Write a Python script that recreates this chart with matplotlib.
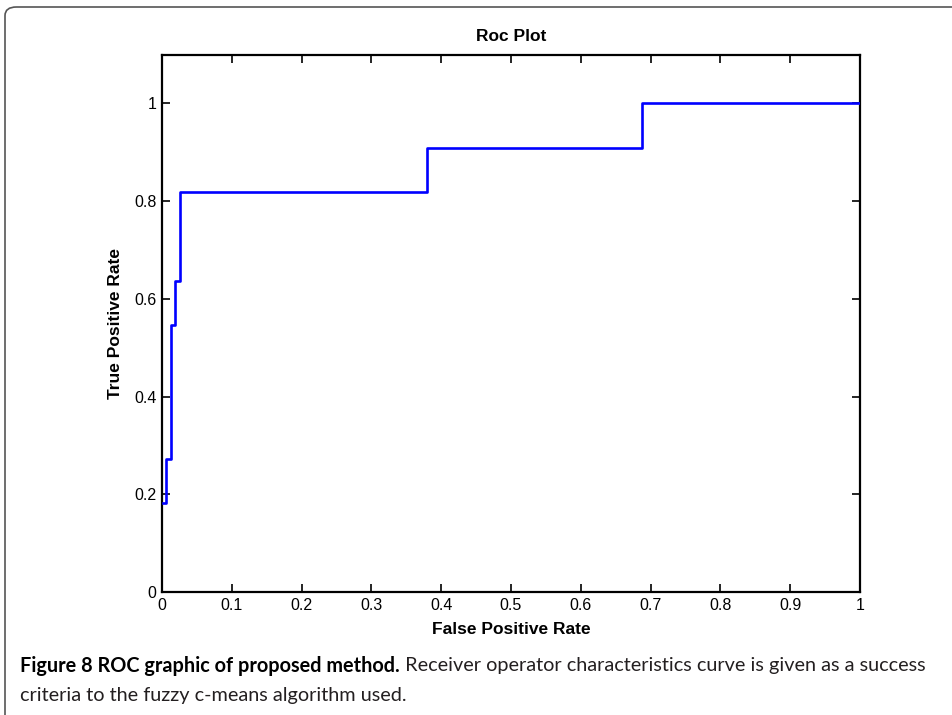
import matplotlib
matplotlib.use("Agg")
import matplotlib.pyplot as plt
from matplotlib.patches import FancyBboxPatch

# ---- data ----
fpr = [0.002, 0.0055, 0.0125, 0.019, 0.026, 0.380, 0.688, 1.0]
tpr = [2/11, 3/11, 6/11, 7/11, 9/11, 10/11, 1.0, 1.0]
xticks = [0, 0.1, 0.2, 0.3, 0.4, 0.5, 0.6, 0.7, 0.8, 0.9, 1]
xticklabels = ["0", "0.1", "0.2", "0.3", "0.4", "0.5", "0.6", "0.7", "0.8", "0.9", "1"]
yticks = [0, 0.2, 0.4, 0.6, 0.8, 1]
yticklabels = ["0", "0.2", "0.4", "0.6", "0.8", "1"]
title = "Roc Plot"
xlabel = "False Positive Rate"
ylabel = "True Positive Rate"
cap_bold = "Figure 8 ROC graphic of proposed method."
cap_line1 = " Receiver operator characteristics curve is given as a success"
cap_line2 = "criteria to the fuzzy c-means algorithm used."

W, H = 953, 715
fig = plt.figure(figsize=(W/100, H/100), dpi=100)
plt.rcParams['font.family'] = ['Liberation Sans', 'DejaVu Sans']

# outer rounded frame (cropped at right and bottom)
frame = FancyBboxPatch((5/W, -0.2), 1.2, 1 - 7/H + 0.2,
                       boxstyle="round,pad=0,rounding_size=0.012",
                       transform=fig.transFigure, fill=False,
                       edgecolor="#555555", linewidth=1.2)
fig.patches.append(frame)

ax = fig.add_axes([162/W, 1 - 592/H, (860-162)/W, (592-54.5)/H])
ax.step(fpr, tpr, where='post', color=(0, 0, 1), linewidth=1.9, zorder=3)
ax.set_xlim(0, 1)
ax.set_ylim(0, 1.1)
ax.set_xticks(xticks)
ax.set_xticklabels(xticklabels)
ax.set_yticks(yticks)
ax.set_yticklabels(yticklabels)
ax.tick_params(direction='in', length=5.5, width=1.2, top=True, right=True,
               labelsize=11.5, pad=4, colors='black')
for s in ax.spines.values():
    s.set_linewidth(1.6)
    s.set_color('black')
ax.set_title(title, fontsize=12.5, fontweight='bold', pad=10)
ax.set_xlabel(xlabel, fontsize=12.5, fontweight='bold', labelpad=7)
ax.set_ylabel(ylabel, fontsize=12.5, fontweight='bold', labelpad=8)

# caption, fitted to target width
renderer = fig.canvas.get_renderer()
cap_font = ['Lato', 'DejaVu Sans']
x0 = 20 / W
y1 = 1 - 666 / H
y2 = 1 - 695 / H
size = 14.0
for _ in range(3):
    tb = fig.text(x0, y1, cap_bold, fontsize=size, fontweight='bold',
                  family=cap_font, va='center', color='black')
    tr = fig.text(x0, y1, cap_line1, fontsize=size, family=cap_font,
                  va='center', color='#231f20')
    wb = tb.get_window_extent(renderer).width
    wr = tr.get_window_extent(renderer).width
    tb.remove(); tr.remove()
    size *= 905 / (wb + wr)
tb = fig.text(x0, y1, cap_bold, fontsize=size, fontweight='bold',
              family=cap_font, va='center', color='black')
wb = tb.get_window_extent(renderer).width
fig.text(x0 + wb / W, y1, cap_line1, fontsize=size, family=cap_font,
         va='center', color='#231f20')
fig.text(x0, y2, cap_line2, fontsize=size, family=cap_font,
         va='center', color='#231f20')

fig.savefig("out.png", dpi=100)
